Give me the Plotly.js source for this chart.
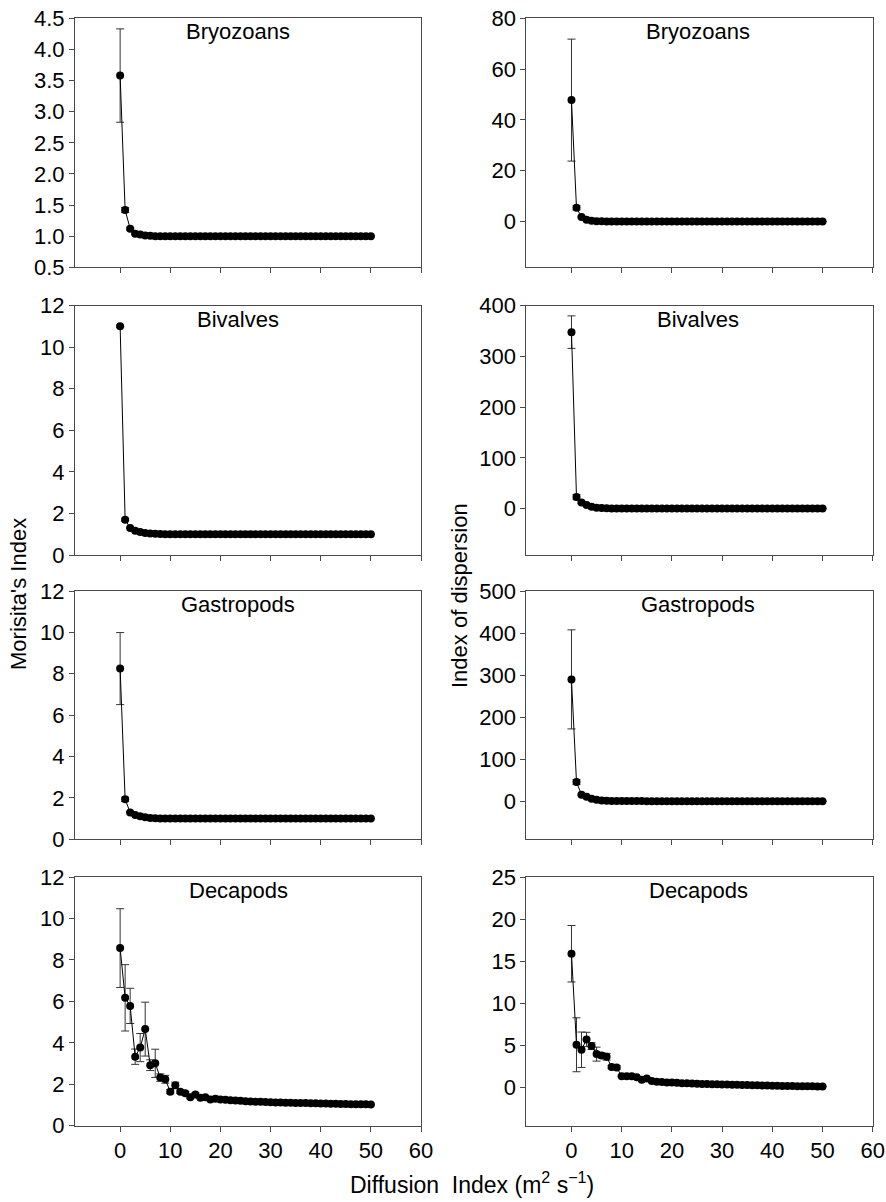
<!DOCTYPE html>
<html><head><meta charset="utf-8">
<script src="https://cdn.plot.ly/plotly-3.0.1.min.js"></script>
<style>html,body{margin:0;padding:0;background:#fff}#chart{width:886px;height:1202px}</style>
</head><body><div id="chart"></div>
<script>
// Diffusion index values (x axis), m2 s-1
const diffusion = [0,1,2,3,4,5,6,7,8,9,10,11,12,13,14,15,16,17,18,19,20,21,22,23,24,25,26,27,28,29,30,31,32,33,34,35,36,37,38,39,40,41,42,43,44,45,46,47,48,49,50];
const groups = ["Bryozoans","Bivalves","Gastropods","Decapods"];
const xTicks = [0,10,20,30,40,50,60];

// Morisita's Index
const morBryozoans = [3.58,1.42,1.12,1.04,1.025,1.01,1.005,1.0,1.0,1.0,1.0,1.0,1.0,1.0,1.0,1.0,1.0,1.0,1.0,1.0,1.0,1.0,1.0,1.0,1.0,1.0,1.0,1.0,1.0,1.0,1.0,1.0,1.0,1.0,1.0,1.0,1.0,1.0,1.0,1.0,1.0,1.0,1.0,1.0,1.0,1.0,1.0,1.0,1.0,1.0,1.0];
const morBryozoansErr = [0.75,0.04,0.02,0.01,0.01,0.005,0,0,0,0,0,0,0,0,0,0,0,0,0,0,0,0,0,0,0,0,0,0,0,0,0,0,0,0,0,0,0,0,0,0,0,0,0,0,0,0,0,0,0,0,0];
const morBivalves = [11.0,1.70,1.30,1.17,1.11,1.06,1.03,1.02,1.01,1.0,1.0,1.0,1.0,1.0,1.0,1.0,1.0,1.0,1.0,1.0,1.0,1.0,1.0,1.0,1.0,1.0,1.0,1.0,1.0,1.0,1.0,1.0,1.0,1.0,1.0,1.0,1.0,1.0,1.0,1.0,1.0,1.0,1.0,1.0,1.0,1.0,1.0,1.0,1.0,1.0,1.0];
const morBivalvesErr = [0.05,0.06,0.03,0.02,0.01,0.01,0,0,0,0,0,0,0,0,0,0,0,0,0,0,0,0,0,0,0,0,0,0,0,0,0,0,0,0,0,0,0,0,0,0,0,0,0,0,0,0,0,0,0,0,0];
const morGastropods = [8.25,1.93,1.30,1.18,1.11,1.06,1.03,1.02,1.01,1.0,1.0,1.0,1.0,1.0,1.0,1.0,1.0,1.0,1.0,1.0,1.0,1.0,1.0,1.0,1.0,1.0,1.0,1.0,1.0,1.0,1.0,1.0,1.0,1.0,1.0,1.0,1.0,1.0,1.0,1.0,1.0,1.0,1.0,1.0,1.0,1.0,1.0,1.0,1.0,1.0,1.0];
const morGastropodsErr = [1.74,0.1,0.04,0.02,0.01,0.01,0,0,0,0,0,0,0,0,0,0,0,0,0,0,0,0,0,0,0,0,0,0,0,0,0,0,0,0,0,0,0,0,0,0,0,0,0,0,0,0,0,0,0,0,0];
const morDecapods = [8.57,6.17,5.78,3.33,3.77,4.66,2.92,3.01,2.32,2.24,1.64,1.95,1.64,1.56,1.37,1.50,1.35,1.37,1.27,1.30,1.27,1.25,1.23,1.21,1.20,1.18,1.17,1.16,1.15,1.14,1.13,1.12,1.12,1.11,1.11,1.10,1.09,1.09,1.08,1.08,1.07,1.07,1.06,1.06,1.05,1.05,1.04,1.04,1.03,1.03,1.02];
const morDecapodsErr = [1.9,1.6,0.85,0.37,0.68,1.3,0.26,0.68,0.18,0.19,0.1,0.15,0.08,0.08,0.06,0.08,0.05,0.05,0.04,0.04,0.04,0.03,0.03,0.03,0.03,0.02,0.02,0.02,0.02,0.02,0.02,0.02,0.02,0.02,0.02,0.02,0.02,0.02,0.02,0.02,0.02,0.02,0.02,0.02,0.02,0.02,0.02,0.02,0.02,0.02,0.02];

// Index of dispersion
const dispBryozoans = [47.8,5.4,1.8,0.7,0.3,0.15,0.1,0.05,0.05,0.05,0.05,0.05,0.05,0.05,0.05,0.05,0.05,0.05,0.05,0.05,0.05,0.05,0.05,0.05,0.05,0.05,0.05,0.05,0.05,0.05,0.05,0.05,0.05,0.05,0.05,0.05,0.05,0.05,0.05,0.05,0.05,0.05,0.05,0.05,0.05,0.05,0.05,0.05,0.05,0.05,0.05];
const dispBryozoansErr = [24,0.8,0.3,0.1,0.05,0,0,0,0,0,0,0,0,0,0,0,0,0,0,0,0,0,0,0,0,0,0,0,0,0,0,0,0,0,0,0,0,0,0,0,0,0,0,0,0,0,0,0,0,0,0];
const dispBivalves = [347.6,22.9,12.4,7.2,3.9,2.0,1.3,0.9,0.7,0.6,0.5,0.5,0.4,0.4,0.4,0.4,0.3,0.3,0.3,0.3,0.3,0.3,0.3,0.3,0.3,0.3,0.3,0.3,0.3,0.3,0.3,0.3,0.3,0.3,0.3,0.3,0.3,0.3,0.3,0.3,0.3,0.3,0.3,0.3,0.3,0.3,0.3,0.3,0.3,0.3,0.3];
const dispBivalvesErr = [32,5,2,1,0.5,0.3,0,0,0,0,0,0,0,0,0,0,0,0,0,0,0,0,0,0,0,0,0,0,0,0,0,0,0,0,0,0,0,0,0,0,0,0,0,0,0,0,0,0,0,0,0];
const dispGastropods = [290,46,15.8,11,6.3,4.0,2.4,1.6,1.3,1.1,1.0,0.9,0.9,0.8,0.8,0.7,0.7,0.7,0.7,0.6,0.6,0.6,0.6,0.6,0.6,0.6,0.5,0.5,0.5,0.5,0.5,0.5,0.5,0.5,0.5,0.5,0.5,0.5,0.5,0.5,0.5,0.5,0.5,0.5,0.5,0.5,0.5,0.5,0.5,0.5,0.5];
const dispGastropodsErr = [117.7,6,2,1,0.5,0.3,0,0,0,0,0,0,0,0,0,0,0,0,0,0,0,0,0,0,0,0,0,0,0,0,0,0,0,0,0,0,0,0,0,0,0,0,0,0,0,0,0,0,0,0,0];
const dispDecapods = [15.9,5.10,4.51,5.73,4.94,3.99,3.83,3.68,2.45,2.41,1.38,1.38,1.38,1.26,0.95,1.10,0.79,0.71,0.67,0.63,0.61,0.58,0.55,0.53,0.51,0.47,0.46,0.44,0.43,0.41,0.40,0.38,0.37,0.35,0.34,0.32,0.31,0.29,0.28,0.26,0.24,0.23,0.22,0.21,0.20,0.19,0.18,0.17,0.17,0.16,0.16];
const dispDecapodsErr = [3.35,3.2,2.1,0.85,0.4,0.83,0.3,0.4,0.2,0.2,0.1,0.1,0.1,0.08,0.06,0.06,0.03,0.03,0.03,0.03,0.03,0.03,0.03,0.03,0.03,0.03,0.03,0.03,0.03,0.03,0.03,0.03,0.03,0.03,0.03,0.03,0.03,0.03,0.03,0.03,0.03,0.03,0.03,0.03,0.03,0.03,0.03,0.03,0.03,0.03,0.03];

// Y axis ticks per panel
const yTicksMor = [[0.5,1.0,1.5,2.0,2.5,3.0,3.5,4.0,4.5],[0,2,4,6,8,10,12],[0,2,4,6,8,10,12],[0,2,4,6,8,10,12]];
const yTicksDisp = [[0,20,40,60,80],[0,100,200,300,400],[0,100,200,300,400,500],[0,5,10,15,20,25]];
const yRangeMor = [[0.5,4.5],[0,12],[0,12],[0,12]];
const yRangeDisp = [[-18,80],[-91,400],[-90,500],[-4.5,25]];

const morSeries = [[morBryozoans,morBryozoansErr],[morBivalves,morBivalvesErr],[morGastropods,morGastropodsErr],[morDecapods,morDecapodsErr]];
const dispSeries = [[dispBryozoans,dispBryozoansErr],[dispBivalves,dispBivalvesErr],[dispGastropods,dispGastropodsErr],[dispDecapods,dispDecapodsErr]];

const W = 886, H = 1202;
const colPx = [[75,421],[526.3,872.7]];
const rowPx = [[18.3,267.3],[305.5,555],[591,839.3],[877,1125.7]];
const FONT = "Liberation Sans, Arial, Helvetica, sans-serif";
const axisColor = "#4a4a4a";

const data = [];
const layout = {
  width: W, height: H,
  margin: {l:0,r:0,t:0,b:0},
  paper_bgcolor: "#fff", plot_bgcolor: "#fff",
  showlegend: false,
  font: {family: FONT, size: 22, color: "#000"},
  annotations: []
};

function addPanel(r, c, series, ticks, range, tickfmt) {
  const idx = r*2 + c + 1;
  const xa = "x" + idx, ya = "y" + idx;
  data.push({
    x: diffusion, y: series[0], xaxis: xa, yaxis: ya,
    type: "scatter", mode: "lines+markers",
    line: {color: "#000", width: 1},
    marker: {color: "#000", size: 8},
    error_y: {type: "data", array: series[1], visible: true, color: "#333", thickness: 1, width: 4},
    hoverinfo: "skip"
  });
  const xd = [colPx[c][0]/W, colPx[c][1]/W];
  const yd = [1 - rowPx[r][1]/H, 1 - rowPx[r][0]/H];
  const xa_obj = {
    domain: xd, anchor: ya, range: [-9, 60],
    tickmode: "array", tickvals: xTicks,
    showticklabels: r === 3,
    ticks: "outside", ticklen: 5, tickwidth: 1, tickcolor: axisColor,
    showline: true, linecolor: axisColor, linewidth: 1, mirror: true,
    showgrid: false, zeroline: false,
    tickfont: {family: FONT, size: 22, color: "#000"}
  };
  if (r === 3) xa_obj.ticktext = xTicks.map(String);
  layout["xaxis" + idx] = xa_obj;
  layout["yaxis" + idx] = {
    domain: yd, anchor: xa, range: range,
    tickmode: "array", tickvals: ticks,
    ticktext: ticks.map(v => tickfmt ? v.toFixed(1) : String(v)),
    ticks: "outside", ticklen: 5, tickwidth: 1, tickcolor: axisColor,
    showline: true, linecolor: axisColor, linewidth: 1, mirror: true,
    showgrid: false, zeroline: false,
    tickfont: {family: FONT, size: 22, color: "#000"}
  };
  layout.annotations.push({
    text: groups[r], xref: xa + " domain", yref: ya + " domain",
    x: c === 0 ? 0.472 : 0.496, y: 0.945, xanchor: "center", yanchor: "middle",
    showarrow: false, font: {family: FONT, size: 22, color: "#000"}
  });
}

for (let r = 0; r < 4; r++) {
  addPanel(r, 0, morSeries[r], yTicksMor[r], yRangeMor[r], r === 0);
  addPanel(r, 1, dispSeries[r], yTicksDisp[r], yRangeDisp[r], false);
}

layout.annotations.push({
  text: "Morisita's Index", xref: "paper", yref: "paper",
  x: 18/W, y: 1 - 594/H, xanchor: "center", yanchor: "middle", textangle: -90,
  showarrow: false, font: {family: FONT, size: 22, color: "#000"}
});
layout.annotations.push({
  text: "Index of dispersion", xref: "paper", yref: "paper",
  x: 459/W, y: 1 - 595/H, xanchor: "center", yanchor: "middle", textangle: -90,
  showarrow: false, font: {family: FONT, size: 22, color: "#000"}
});
layout.annotations.push({
  text: "Diffusion\u00a0 Index (m<sup>2</sup> s<sup>\u22121</sup>)", xref: "paper", yref: "paper",
  x: 472/W, y: 1 - 1200/H, xanchor: "center", yanchor: "bottom",
  showarrow: false, font: {family: FONT, size: 23, color: "#000"}
});

Plotly.newPlot("chart", data, layout, {staticPlot: true, displayModeBar: false});
</script></body></html>
